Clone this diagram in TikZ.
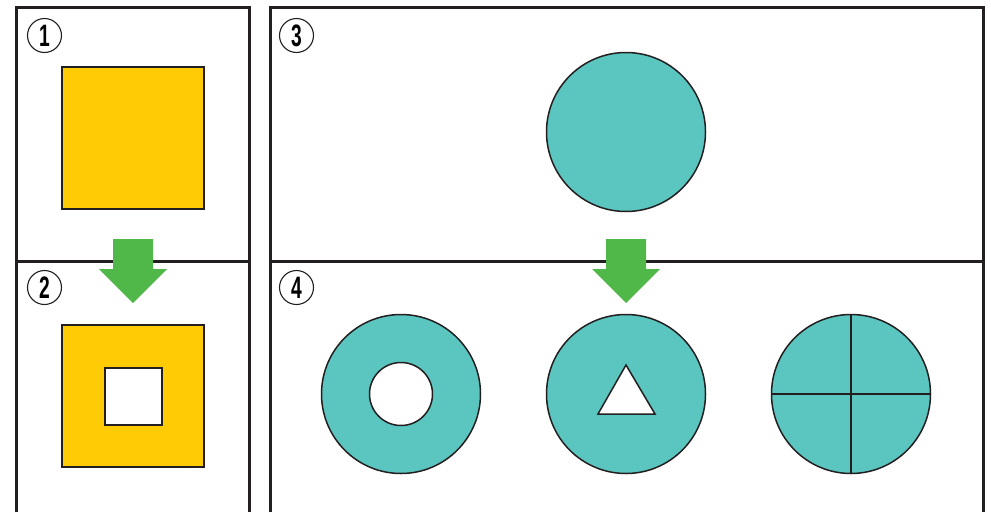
\documentclass[tikz,border=0pt]{standalone}
\usepackage{fontspec}
\newfontfamily\numfont[FakeStretch=0.62]{Liberation Sans Bold}
\definecolor{frameline}{HTML}{231F20}
\definecolor{yolk}{HTML}{FFCB05}
\definecolor{teal}{HTML}{5BC5BF}
\definecolor{leaf}{HTML}{50B848}
\tikzset{
  frame/.style={line width=3pt, draw=frameline},
  num/.style={circle, draw=frameline, line width=1.1pt, minimum size=34pt, inner sep=0pt,
    font=\numfont\fontsize{31}{31}\selectfont},
  disc/.style={circle, draw=frameline, fill=teal, line width=1.5pt, minimum size=159pt, inner sep=0pt},
  hole/.style={circle, draw=frameline, fill=white, line width=1.5pt, minimum size=63pt, inner sep=0pt},
  slab/.style={draw=frameline, fill=yolk, line width=1.2pt},
  down/.style={fill=leaf},
}
\begin{document}
\begin{tikzpicture}[x=1pt, y=-1pt]
    \useasboundingbox (0,0) rectangle (991,512);
    \draw[frame] (16,512)--(16,7)--(249,7)--(249,512) (16,261)--(249,261);
    \draw[frame] (270,512)--(270,7)--(983,7)--(983,512) (270,261)--(983,261);
    \node[num] (n1) at (44.5,35.5) {1};
    \node[num] (n2) at (44.5,287.5) {2};
    \node[num] (n3) at (296.5,35.5) {3};
    \node[num] (n4) at (296.5,287.5) {4};
    \draw[slab] (62,67) rectangle (204,209);
    \draw[slab] (62,325) rectangle (204,467);
    \draw[slab, fill=white] (105,368) rectangle (162,425);
    \fill[down] (113,239)--(153,239)--(153,269)--(167,269)--(133,303)--(99,269)--(113,269)--cycle;
    \fill[down] (606,239)--(646,239)--(646,269)--(660,269)--(626,303)--(592,269)--(606,269)--cycle;
    \node[disc] (c3) at (626,132) {};
    \node[disc] (c4) at (401,394) {};
    \node[hole] (h4) at (c4) {};
    \node[disc] (c5) at (626,394) {};
    \draw[frameline, fill=white, line width=1.5pt] (626,365)--(655,414)--(598,414)--cycle;
    \node[disc] (c6) at (851,394) {};
    \draw[frameline, line width=1.5pt] (c6.north)--(c6.south) (c6.west)--(c6.east);
\end{tikzpicture}
\end{document}
